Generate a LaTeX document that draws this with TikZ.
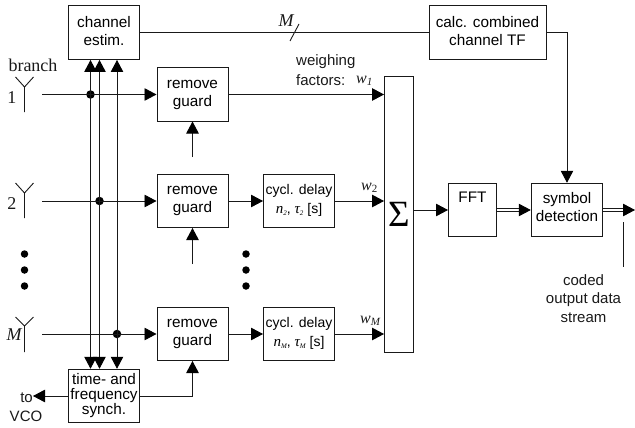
\documentclass[tikz,border=0pt]{standalone}
\usepackage{fontspec}
\setmainfont{Liberation Sans}
\newfontfamily\tms{Liberation Serif}
\usetikzlibrary{arrows.meta,calc}
\tikzset{
  x=1pt,y=-1pt,
  conn/.style={line width=0.9pt,draw=black!90},
  arr/.style={conn,-{Triangle[length=12pt,width=12.5pt,fill=black,color=black]}},
  dbl/.style={line width=0.9pt,draw=black!90,double=white,double distance=1.4pt},
  blk/.style={draw=black!90,line width=1pt,fill=white,inner sep=0pt,align=center,anchor=center,
     font=\fontsize{15.3}{18}\selectfont},
  rg/.style={blk,minimum width=71pt,minimum height=53pt},
  cyc/.style={blk,minimum width=71pt,minimum height=53.5pt,font=\fontsize{14}{18.5}\selectfont},
  lbl/.style={inner sep=0pt,align=center,font=\fontsize{15}{18.5}\selectfont,text=black!90},
  ser/.style={inner sep=0pt,font=\fontsize{18}{20}\tms,text=black!90},
  wlab/.style={inner sep=0pt,font=\fontsize{16}{18}\tms\itshape,text=black!90},
  jn/.style={circle,fill=black,inner sep=0pt,minimum size=8.5pt},
  bigdot/.style={circle,fill=black,inner sep=0pt,minimum size=7.5pt},
}
\newcommand{\subs}[2]{{\tms\itshape\fontsize{15}{15}\selectfont #1\raisebox{-2.5pt}{\fontsize{7}{7}\selectfont #2}}}
\begin{document}
\begin{tikzpicture}
\useasboundingbox (0,0) rectangle (635,428);
% boxes
\node[blk,minimum width=71pt,minimum height=54pt] (ce) at (104,32.5) {channel\\estim.\\[-14pt]~};
\node[blk,minimum width=117pt,minimum height=54pt] (calc) at (487.5,32.5) {calc. combined\\channel TF\\[-14pt]~};
\node[rg] (rg1) at (192.5,94.5) {remove\\guard};
\node[rg] (rg2) at (192.5,201) {remove\\guard};
\node[rg] (rgm) at (192.5,334) {remove\\guard};
\node[cyc] (cd2) at (299,201) {cycl. delay\\\subs{n}{2}, \subs{τ}{2} [s]\\[-14.5pt]~};
\node[cyc] (cdm) at (299,334) {cycl. delay\\\subs{n}{M}, \subs{τ}{M} [s]\\[-14.5pt]~};
\node[blk,minimum width=28.5pt,minimum height=275pt] (sum) at (398.8,214.5) {};
\node[inner sep=0pt,font=\fontsize{37}{37}\tms,text=black] (sg) at (398.8,214) {Σ};
\node[blk,minimum width=48pt,minimum height=53.5pt] (fft) at (472.5,210) {FFT\\[7pt]~};
\node[blk,minimum width=71.5pt,minimum height=53.5pt] (sym) at (567,210) {symbol\\detection\\[-12pt]~};
\node[blk,minimum width=71pt,minimum height=53.5pt,font=\fontsize{15.3}{15}\selectfont] (sync) at (104,396) {time- and\\frequency\\synch.\\[-11pt]~};
% antennas
\foreach \n/\t/\f/\b in {a1/77/87/112,a2/183/193/218,am/317/326/352}{
  \coordinate (\n t) at (24.5,\f);
  \coordinate (\n b) at (24.5,\b);
  \coordinate (\n l) at (15.5,\t);
  \coordinate (\n r) at (33.5,\t);
  \draw[conn] (\n l) -- (\n t) -- (\n r) (\n t) -- (\n b);
}
\node[ser] (branch) at (33,65) {branch};
\node[ser] (n1) at (12,97.5) {1};
\node[ser] (n2) at (12,204) {2};
\node[ser,font=\fontsize{18}{20}\tms\itshape] (nm) at (14,335) {M};
% junctions
\node[jn] (j1) at (90.5,94.5) {};
\node[jn] (j2) at (99.5,201) {};
\node[jn] (jm) at (117,334) {};
% feed lines
\coordinate (s1) at (42,94.5);
\coordinate (s2) at (42,201);
\coordinate (sm) at (42,334);
\draw[arr] (s1) -- (rg1.west);
\draw[arr] (s2) -- (rg2.west);
\draw[arr] (sm) -- (rgm.west);
\draw[arr] (j1.center) -- (j1.center |- ce.south);
\draw[arr] (j1.center) -- (j1.center |- sync.north);
\draw[arr] (j2.center) -- (j2.center |- ce.south);
\draw[arr] (j2.center) -- (j2.center |- sync.north);
\draw[arr] (jm.center) -- (jm.center |- ce.south);
\draw[arr] (jm.center) -- (jm.center |- sync.north);
% control arrows
\coordinate (u1) at (192.5,157);
\coordinate (u2) at (192.5,264);
\draw[arr] (u1) -- (rg1.south);
\draw[arr] (u2) -- (rg2.south);
\draw[arr] (sync.east) -| (rgm.south);
\node[lbl,anchor=east] (to) at (33,398) {to};
\node[lbl] (vco) at (26,416) {VCO};
\draw[arr] (sync.west) -- (sync.west -| to.east);
% to sum
\draw[arr] (rg1.east) -- (rg1.east -| sum.west);
\draw[arr] (rg2.east) -- (cd2.west);
\draw[arr] (rgm.east) -- (cdm.west);
\draw[arr] (cd2.east) -- (cd2.east -| sum.west);
\draw[arr] (cdm.east) -- (cdm.east -| sum.west);
\draw[arr] (sum.east |- fft.west) -- (fft.west);
% double lines
\draw[dbl,shorten >=9pt] (fft.east) -- (sym.west);
\draw[arr] ($(sym.west)+(-12,0)$) -- (sym.west);
\coordinate (out) at (635,210);
\draw[dbl,shorten >=9pt] (sym.east) -- (out);
\draw[arr] ($(out)+(-12,0)$) -- (out);
% top
\draw[conn] (ce.east) -- (calc.west);
\coordinate (sl1) at (290,41);
\coordinate (sl2) at (299,24);
\draw[conn] (sl1) -- (sl2);
\node[wlab,font=\fontsize{18}{18}\tms\itshape] (mm) at (286,21) {M};
\draw[arr] (calc.east) -| (sym.north);
% dots
\foreach \y [count=\i] in {254,270,286}{
  \node[bigdot] (dl\i) at (24.5,\y) {};
  \node[bigdot] (dr\i) at (246,\y) {};
}
% labels
\node[lbl,anchor=west] (wg) at (296,61.5) {weighing};
\node[lbl,anchor=west] (fc) at (296,80.5) {factors:};
\node[wlab,anchor=west] (w1) at (356,81) {w\raisebox{-2pt}{\fontsize{11}{11}\selectfont 1}};
\node[wlab,anchor=west] (w2) at (361,188) {w\raisebox{-2pt}{\fontsize{11}{11}\upshape\selectfont 2}};
\node[wlab,anchor=west] (wm) at (360,321) {w\raisebox{-2pt}{\fontsize{11}{11}\selectfont M}};
\coordinate (o1) at (623,222);
\coordinate (o2) at (623,267);
\draw[conn] (o1) -- (o2);
\node[lbl,font=\fontsize{15}{18.5}\selectfont] (coded) at (583.5,298.5) {coded\\output data\\stream};
\end{tikzpicture}
\end{document}
